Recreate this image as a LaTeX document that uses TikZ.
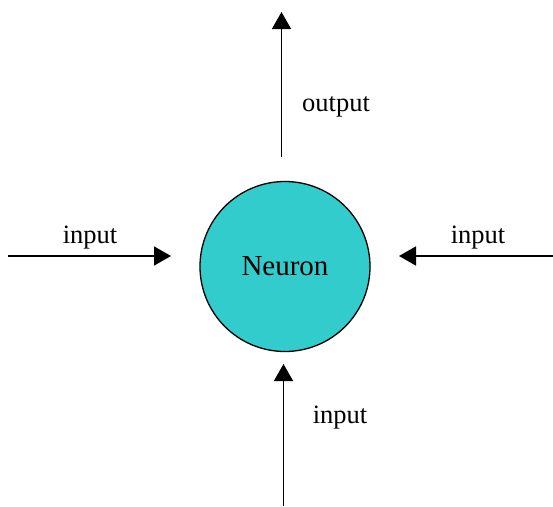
\documentclass[tikz,border=0pt]{standalone}
\usepackage{fontspec}
\setmainfont{Liberation Serif}
\usetikzlibrary{arrows.meta}
\begin{document}
\begin{tikzpicture}[x=1pt,y=-1pt,
  conn/.style={line width=1.6pt,-{Triangle[length=17pt,width=19pt]}},
  lbl/.style={font=\fontsize{26.5}{29}\selectfont,inner sep=0pt},
  neur/.style={circle,draw,line width=1.3pt,fill={rgb,255:red,51;green,204;blue,204},minimum size=170pt,inner sep=0pt,font=\fontsize{29}{32}\selectfont}]
\useasboundingbox (0,0) rectangle (553,506);
\node[neur] (neuron) at (285,266.5) {Neuron};
\coordinate (topS) at (281.5,157);
\coordinate (topE) at (281.5,12);
\coordinate (leftS) at (8,256);
\coordinate (leftE) at (171,256);
\coordinate (rightS) at (553,256);
\coordinate (rightE) at (399,256);
\coordinate (botS) at (283.5,506);
\coordinate (botE) at (283.5,364);
\draw[conn] (topS) -- (topE);
\draw[conn] (leftS) -- (leftE);
\draw[conn] (rightS) -- (rightE);
\draw[conn] (botS) -- (botE);
\node[lbl] (lout) at (336,107) {output};
\node[lbl] (lin1) at (90,238) {input};
\node[lbl] (lin2) at (478,238) {input};
\node[lbl] (lin3) at (340,418) {input};
\end{tikzpicture}
\end{document}
